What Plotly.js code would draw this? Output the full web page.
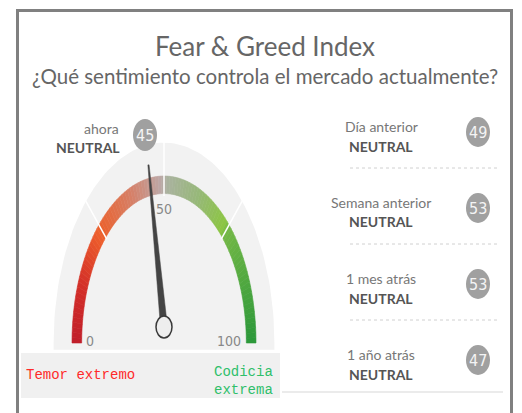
<!DOCTYPE html>
<html>
<head>
<meta charset="utf-8">
<script src="https://cdn.plot.ly/plotly-3.0.1.min.js"></script>
<style>html,body{margin:0;padding:0;background:#fff;}#chart{width:522px;height:413px;}</style>
</head>
<body>
<div id="chart"></div>
<script>
// ---- data ----
const titleText = 'Fear & Greed Index';
const subtitleText = '¿Qué sentimiento controla el mercado actualmente?';
const gaugeValue = 45;
const gaugeCaption = 'ahora';
const gaugeState = 'NEUTRAL';
const gaugeTicks = [0, 50, 100];
const sectionBreaks = [25, 50, 75];
const historyLabels = ['Día anterior', 'Semana anterior', '1 mes atrás', '1 año atrás'];
const historyStates = ['NEUTRAL', 'NEUTRAL', 'NEUTRAL', 'NEUTRAL'];
const historyValues = [49, 53, 53, 47];
const extremeLow = 'Temor extremo';
const extremeHigh = 'Codicia<br>extrema';

// ---- layout helpers (pixel geometry) ----
const W = 522, H = 413;
const CX = 164, CY = 343, SX = 92, SY = 167; // gauge centre and unit radii in px
const px = x => x / W, py = y => 1 - y / H;
const ang = v => Math.PI * (1 - v / 100);
const pt = (r, v) => [r * Math.cos(ang(v)), r * Math.sin(ang(v))];

const stops = [
  [0, [192, 30, 42]], [12, [212, 48, 40]], [24, [238, 96, 44]], [25, [234, 98, 46]],
  [38, [214, 128, 104]], [49, [188, 168, 168]], [51, [170, 178, 160]],
  [63, [150, 184, 120]], [74, [140, 198, 64]], [75, [116, 184, 70]], [100, [44, 152, 58]]
];
function colorAt(v) {
  for (let i = 0; i < stops.length - 1; i++) {
    const [a, ca] = stops[i], [b, cb] = stops[i + 1];
    if (v >= a && v <= b) {
      const t = (v - a) / (b - a);
      const c = ca.map((x, k) => Math.round(x + (cb[k] - x) * t));
      return `rgb(${c[0]},${c[1]},${c[2]})`;
    }
  }
  return 'rgb(44,152,58)';
}

const traces = [];
// background semi-ellipse
{
  const xs = [], ys = [];
  for (let v = 0; v <= 100; v += 1) { const p = pt(1.2, v); xs.push(p[0]); ys.push(p[1]); }
  xs.push(1.2, -1.2); ys.push(-0.04, -0.04);
  traces.push({x: xs, y: ys, type: 'scatter', mode: 'lines', fill: 'toself',
    fillcolor: '#f2f2f2', line: {width: 0, color: '#f2f2f2'}, hoverinfo: 'skip', showlegend: false});
}
// coloured band
for (let v = 0; v < 100; v++) {
  const a = pt(0.895, v), b = pt(1.0, v), c = pt(1.0, v + 1), d = pt(0.895, v + 1);
  const col = colorAt(v + 0.5);
  traces.push({x: [a[0], b[0], c[0], d[0], a[0]], y: [a[1], b[1], c[1], d[1], a[1]],
    type: 'scatter', mode: 'lines', fill: 'toself', fillcolor: col,
    line: {width: 0.6, color: col}, hoverinfo: 'skip', showlegend: false});
}
// section dividers
sectionBreaks.forEach(v => {
  const a = pt(0.88, v), b = pt(1.22, v);
  traces.push({x: [a[0], b[0]], y: [a[1], b[1]], type: 'scatter', mode: 'lines',
    line: {width: 1.5, color: '#ffffff'}, hoverinfo: 'skip', showlegend: false});
});
// needle
const pivotV = 16 / SY;
{
  const tip = pt(1.08, gaugeValue);
  const T = [tip[0] * SX, tip[1] * SY], P = [0, pivotV * SY];
  const dx = T[0] - P[0], dy = T[1] - P[1], L = Math.hypot(dx, dy);
  const n = [-dy / L, dx / L];
  const q = [[P[0] + n[0] * 3.5, P[1] + n[1] * 3.5], [T[0] + n[0] * 0.6, T[1] + n[1] * 0.6],
             [T[0] - n[0] * 0.6, T[1] - n[1] * 0.6], [P[0] - n[0] * 3.5, P[1] - n[1] * 3.5]];
  q.push(q[0]);
  traces.push({x: q.map(p => p[0] / SX), y: q.map(p => p[1] / SY), type: 'scatter', mode: 'lines',
    fill: 'toself', fillcolor: '#444444', line: {width: 0.5, color: '#444444'}, hoverinfo: 'skip', showlegend: false});
}

const shapes = [];
const annotations = [];
const labelFont = 'Lato, "Open Sans", sans-serif';
const condFont = '"DejaVu Sans Condensed", "Liberation Sans Narrow", Lato, sans-serif';

// frame
shapes.push({type: 'line', xref: 'paper', yref: 'paper', x0: px(17.5), x1: px(17.5), y0: py(9), y1: py(413), line: {color: '#808080', width: 3}});
shapes.push({type: 'line', xref: 'paper', yref: 'paper', x0: px(16), x1: px(513), y0: py(10.5), y1: py(10.5), line: {color: '#808080', width: 3}});
shapes.push({type: 'line', xref: 'paper', yref: 'paper', x0: px(511.5), x1: px(511.5), y0: py(9), y1: py(413), line: {color: '#808080', width: 3}});
// box beneath gauge
shapes.push({type: 'rect', xref: 'paper', yref: 'paper', x0: px(21), x1: px(280), y0: py(398), y1: py(353), fillcolor: '#f0f0f0', line: {width: 0}, layer: 'below'});
// knob
shapes.push({type: 'circle', xref: 'x', yref: 'y', xsizemode: 'pixel', ysizemode: 'pixel', xanchor: 0, yanchor: pivotV,
  x0: -8, x1: 8, y0: -11, y1: 11, fillcolor: '#eeeeee', line: {color: '#3a3a3a', width: 1.5}});
// gauge value bubble
shapes.push({type: 'circle', xref: 'paper', yref: 'paper', x0: px(133), x1: px(157), y0: py(151), y1: py(119), fillcolor: '#a0a0a0', line: {width: 0}});
annotations.push({xref: 'paper', yref: 'paper', x: px(145), y: py(135), text: String(gaugeValue), showarrow: false,
  font: {family: condFont, size: 16, color: '#f4f4f4'}, xanchor: 'center', yanchor: 'middle'});
annotations.push({xref: 'paper', yref: 'paper', x: px(121), y: py(128), text: gaugeCaption, showarrow: false,
  font: {family: labelFont, size: 14, color: '#777'}, xanchor: 'right', yanchor: 'middle'});
annotations.push({xref: 'paper', yref: 'paper', x: px(122), y: py(148), text: '<b>' + gaugeState + '</b>', showarrow: false,
  font: {family: labelFont, size: 14, color: '#555'}, xanchor: 'right', yanchor: 'middle'});
// ticks
gaugeTicks.forEach(v => {
  const p = pt(v === 100 ? 0.86 : 0.8, v);
  annotations.push({xref: 'x', yref: 'y', x: p[0], y: p[1] + (v === 50 ? 0 : 0.01), text: String(v), showarrow: false,
    font: {family: condFont, size: 14, color: '#888'}, xanchor: v === 100 ? 'right' : 'center', yanchor: 'middle'});
});
// titles
annotations.push({xref: 'paper', yref: 'paper', x: px(265), y: py(46), text: titleText, showarrow: false,
  font: {family: labelFont, size: 26, color: '#666'}, xanchor: 'center', yanchor: 'middle'});
annotations.push({xref: 'paper', yref: 'paper', x: px(265), y: py(76), text: subtitleText, showarrow: false,
  font: {family: labelFont, size: 20.5, color: '#666'}, xanchor: 'center', yanchor: 'middle'});
// extremes
annotations.push({xref: 'paper', yref: 'paper', x: px(24), y: py(375), text: extremeLow, showarrow: false,
  font: {family: '"Liberation Mono", "Courier New", monospace', size: 14, color: '#ff2a2a'}, xanchor: 'left', yanchor: 'middle'});
annotations.push({xref: 'paper', yref: 'paper', x: px(212), y: py(381), text: extremeHigh, showarrow: false, align: 'left',
  font: {family: '"Liberation Mono", "Courier New", monospace', size: 14, color: '#2fbf6a'}, xanchor: 'left', yanchor: 'middle'});
// history list
historyLabels.forEach((lab, i) => {
  const y0 = 126 + 76 * i;
  annotations.push({xref: 'paper', yref: 'paper', x: px(381), y: py(y0), text: lab, showarrow: false,
    font: {family: labelFont, size: 14, color: '#777'}, xanchor: 'center', yanchor: 'middle'});
  annotations.push({xref: 'paper', yref: 'paper', x: px(381), y: py(y0 + 20), text: '<b>' + historyStates[i] + '</b>', showarrow: false,
    font: {family: labelFont, size: 14, color: '#555'}, xanchor: 'center', yanchor: 'middle'});
  const cy = y0 + 6;
  shapes.push({type: 'circle', xref: 'paper', yref: 'paper', x0: px(466), x1: px(490), y0: py(cy + 15), y1: py(cy - 15), fillcolor: '#a0a0a0', line: {width: 0}});
  annotations.push({xref: 'paper', yref: 'paper', x: px(478), y: py(cy), text: String(historyValues[i]), showarrow: false,
    font: {family: condFont, size: 16, color: '#f4f4f4'}, xanchor: 'center', yanchor: 'middle'});
  if (i < historyLabels.length - 1) {
    shapes.push({type: 'line', xref: 'paper', yref: 'paper', x0: px(350), x1: px(500), y0: py(y0 + 42), y1: py(y0 + 42),
      line: {color: '#d0d0d0', width: 1, dash: 'dot'}});
  }
});
shapes.push({type: 'line', xref: 'paper', yref: 'paper', x0: px(282), x1: px(503), y0: py(392), y1: py(392), line: {color: '#e4e4e4', width: 1.5}});

const layout = {
  width: W, height: H, autosize: false,
  margin: {l: 0, r: 0, t: 0, b: 0},
  paper_bgcolor: '#ffffff', plot_bgcolor: 'rgba(0,0,0,0)',
  xaxis: {range: [-CX / SX, (W - CX) / SX], visible: false, fixedrange: true, domain: [0, 1]},
  yaxis: {range: [-(H - CY) / SY, CY / SY], visible: false, fixedrange: true, domain: [0, 1]},
  shapes: shapes, annotations: annotations, showlegend: false
};
Plotly.newPlot('chart', traces, layout, {displayModeBar: false, staticPlot: true});
</script>
</body>
</html>
